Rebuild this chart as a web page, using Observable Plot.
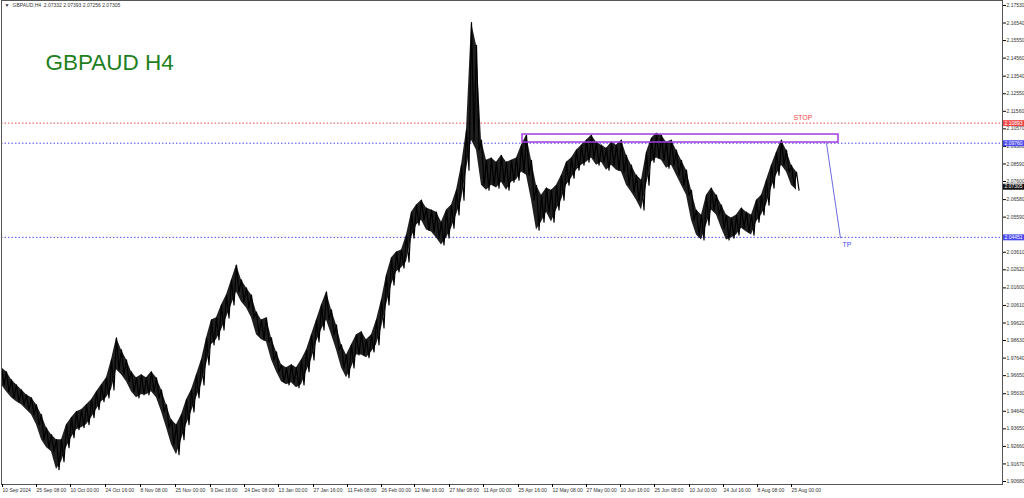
<!DOCTYPE html>
<html><head><meta charset="utf-8">
<script src="https://cdn.jsdelivr.net/npm/d3@7"></script>
<script src="https://cdn.jsdelivr.net/npm/@observablehq/plot@0.6"></script>
<style>
body{margin:0;background:#fff;overflow:hidden;}
#chart svg{display:block;}
</style></head>
<body><div id="chart"></div>
<script>
// ---- data (10 H4 bars per sample) ----
const barStep = 10;
const highs = [
1.9709,1.9687,1.9642,1.9613,1.9585,1.9557,1.9540,1.9501,1.9445,1.9371,
1.9332,1.9304,1.9304,1.9388,1.9428,1.9461,1.9473,1.9501,1.9529,1.9574,
1.9613,1.9653,1.9754,1.9878,1.9810,1.9754,1.9687,1.9653,1.9670,1.9653,
1.9687,1.9653,1.9585,1.9501,1.9416,1.9388,1.9445,1.9529,1.9585,1.9670,
1.9754,1.9878,1.9979,1.9991,2.0064,2.0120,2.0205,2.0289,2.0205,2.0160,
2.0120,2.0024,1.9979,1.9991,1.9878,1.9799,1.9726,1.9709,1.9726,1.9709,
1.9754,1.9810,1.9895,1.9979,2.0064,2.0137,2.0036,1.9951,1.9839,1.9782,
1.9839,1.9895,1.9912,1.9867,1.9895,1.9979,2.0092,2.0233,2.0329,2.0362,
2.0374,2.0458,2.0587,2.0627,2.0655,2.0610,2.0599,2.0587,2.0531,2.0599,
2.0627,2.0711,2.0852,2.1049,2.1657,2.1528,2.0993,2.0880,2.0892,2.0869,
2.0908,2.0869,2.0880,2.0892,2.0965,2.1021,2.0880,2.0739,2.0683,2.0723,
2.0711,2.0739,2.0796,2.0869,2.0892,2.0937,2.0965,2.0993,2.1021,2.0982,
2.0965,2.0948,2.0982,2.0965,2.0993,2.0908,2.0852,2.0796,2.0768,2.0925,
2.1004,2.1032,2.1021,2.0982,2.0993,2.0937,2.0880,2.0824,2.0711,2.0599,
2.0571,2.0683,2.0723,2.0683,2.0627,2.0571,2.0554,2.0571,2.0610,2.0587,
2.0571,2.0655,2.0683,2.0768,2.0852,2.0925,2.0993,2.0937,2.0852,2.0813
];
const lows = [
1.9613,1.9574,1.9540,1.9518,1.9501,1.9473,1.9445,1.9388,1.9304,1.9259,
1.9236,1.9135,1.9180,1.9259,1.9315,1.9360,1.9371,1.9388,1.9428,1.9473,
1.9518,1.9540,1.9585,1.9698,1.9670,1.9630,1.9574,1.9540,1.9557,1.9557,
1.9574,1.9540,1.9461,1.9371,1.9276,1.9219,1.9304,1.9388,1.9461,1.9540,
1.9613,1.9726,1.9839,1.9867,1.9923,1.9991,2.0064,2.0137,2.0081,2.0047,
1.9991,1.9895,1.9867,1.9855,1.9754,1.9687,1.9630,1.9613,1.9625,1.9597,
1.9613,1.9687,1.9754,1.9855,1.9923,1.9979,1.9895,1.9810,1.9709,1.9653,
1.9709,1.9782,1.9782,1.9766,1.9799,1.9839,1.9934,2.0064,2.0176,2.0250,
2.0272,2.0306,2.0441,2.0514,2.0542,2.0486,2.0475,2.0441,2.0402,2.0441,
2.0497,2.0571,2.0655,2.0824,2.0993,2.0937,2.0739,2.0711,2.0739,2.0723,
2.0756,2.0711,2.0756,2.0768,2.0813,2.0796,2.0655,2.0486,2.0531,2.0587,
2.0531,2.0599,2.0655,2.0739,2.0779,2.0824,2.0852,2.0869,2.0892,2.0852,
2.0869,2.0824,2.0852,2.0824,2.0813,2.0739,2.0700,2.0655,2.0599,2.0739,
2.0869,2.0892,2.0880,2.0835,2.0852,2.0796,2.0739,2.0683,2.0542,2.0458,
2.0430,2.0514,2.0599,2.0571,2.0497,2.0430,2.0441,2.0458,2.0497,2.0475,
2.0458,2.0531,2.0571,2.0627,2.0723,2.0796,2.0852,2.0813,2.0739,2.0711
];

const xLabels = ["10 Sep 2024","25 Sep 08:00","10 Oct 00:00","24 Oct 16:00","8 Nov 08:00","25 Nov 00:00","9 Dec 16:00","24 Dec 08:00","13 Jan 00:00","27 Jan 16:00","11 Feb 08:00","26 Feb 00:00","12 Mar 16:00","27 Mar 08:00","11 Apr 00:00","25 Apr 16:00","12 May 08:00","27 May 00:00","10 Jun 16:00","25 Jun 08:00","10 Jul 00:00","24 Jul 16:00","8 Aug 08:00","25 Aug 00:00"];
const xTickBars = [0,68,136,206,276,346,416,484,552,622,690,758,824,894,962,1032,1100,1168,1236,1304,1374,1442,1510,1578];
const yTicks = [2.17530,2.16540,2.15550,2.14560,2.13540,2.12550,2.11560,2.10570,2.09580,2.08590,2.07600,2.06580,2.05590,2.03610,2.02620,2.01600,2.00610,1.99620,1.98630,1.97640,1.96650,1.95630,1.94640,1.93650,1.92660,1.91670,1.90680];

const levelNames = ["STOP","ENTRY","TP"];
const levelPrices = [2.10893, 2.09760, 2.04451];
const levelColors = ["#f04848","#4a4af0","#4a4af0"];
const lastPrice = 2.07305;
const headerText = "GBPAUD,H4  2.07332 2.07393 2.07256 2.07305";
const titleText = "GBPAUD H4";

// zone rectangle and TP arrow (bar index, price)
const zoneBars = [1042, 1674];
const zonePrices = [2.0980, 2.1025];
const tpBars = [1650, 1678];
const tpPrices = [2.0976, 2.0440];
const stopLabelPos = [1584, 2.1121];
const tpLabelPos = [1682, 2.0402];

// ---- build ----
const samples = highs.map((h, i) => ({bar: i * barStep, high: h, low: lows[i]}));
// zig-zag path through each sample's high then low (the bars' swing)
const swing = samples.flatMap(s => [{bar: s.bar, p: s.high}, {bar: s.bar + barStep / 2, p: s.low}]);
const levels = levelNames.map((n, i) => ({name: n, price: levelPrices[i], color: levelColors[i]}));
const xDomain = [0, 2002];
const axisBoxes = [...levels, {name: "LAST", price: lastPrice, color: "#111"}];
const small = "'Liberation Sans', Arial, sans-serif";

const chart = Plot.plot({
  width: 1024, height: 498,
  marginLeft: 1, marginRight: 22, marginTop: 0, marginBottom: 14,
  x: {domain: xDomain, axis: null, label: null},
  y: {domain: [1.9051, 2.1781], axis: null, label: null},
  style: {background: "#fff", fontFamily: small},
  marks: [
    // dotted level lines
    Plot.ruleY(levels, {y: "price", stroke: "color", strokeWidth: 1, strokeDasharray: "1.5,2"}),
    // price bars
    Plot.areaY(samples, {x: "bar", y1: "low", y2: "high", fill: "#000", fillOpacity: 0.88, curve: "linear"}),
    Plot.lineY(swing, {x: "bar", y: "p", stroke: "#000", strokeWidth: 1.2}),
    // zone rectangle
    Plot.rect([0], {x1: () => zoneBars[0], x2: () => zoneBars[1], y1: () => zonePrices[0], y2: () => zonePrices[1],
      fill: "none", stroke: "#a23be0", strokeWidth: 1.5}),
    // TP line
    Plot.link([0], {x1: () => tpBars[0], y1: () => tpPrices[0], x2: () => tpBars[1], y2: () => tpPrices[1],
      stroke: "#6b6be0", strokeWidth: 1}),
    Plot.text(["STOP"], {x: () => stopLabelPos[0], y: () => stopLabelPos[1], fill: "#f04848", fontSize: 7, textAnchor: "start"}),
    Plot.text(["TP"], {x: () => tpLabelPos[0], y: () => tpLabelPos[1], fill: "#4a4af0", fontSize: 7, textAnchor: "start"}),
    // frame & axes
    Plot.frame({stroke: "#555", strokeWidth: 1}),
    Plot.axisY(yTicks, {anchor: "right", label: null, tickSize: 3, tickPadding: 1, fontSize: 5, fill: "#333",
      tickFormat: d => d.toFixed(5)}),
    Plot.axisX(xTickBars, {anchor: "bottom", label: null, tickSize: 3, tickPadding: 1, fontSize: 5, fill: "#333",
      textAnchor: "start", dx: 1, tickFormat: d => xLabels[xTickBars.indexOf(d)]}),
    // price boxes on axis
    Plot.ruleY(axisBoxes, {y: "price", x1: () => xDomain[1] + 2, x2: () => xDomain[1] + 44, stroke: "color", strokeWidth: 6}),
    Plot.text(axisBoxes, {y: "price", x: () => xDomain[1] + 4, text: d => d.price.toFixed(5), fill: "#fff", fontSize: 5, textAnchor: "start"}),
    // header & title
    Plot.text([headerText], {frameAnchor: "top-left", dx: 11, dy: 3, fontSize: 5, fill: "#333", textAnchor: "start", lineAnchor: "top"}),
    Plot.text(["\u25BC"], {frameAnchor: "top-left", dx: 3, dy: 3, fontSize: 5, fill: "#333", textAnchor: "start", lineAnchor: "top"}),
    Plot.text([titleText], {frameAnchor: "top-left", dx: 44, dy: 54, fontSize: 22.5, fill: "#1e801e", textAnchor: "start", lineAnchor: "top"})
  ]
});
document.getElementById("chart").appendChild(chart);
</script></body></html>
